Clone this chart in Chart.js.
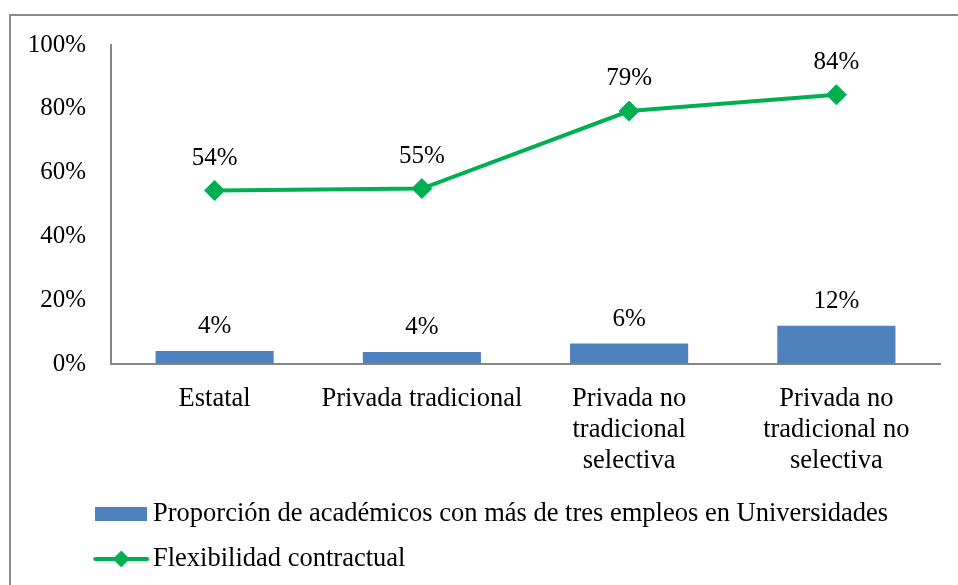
<!DOCTYPE html>
<html><head><meta charset="utf-8">
<script src="https://cdn.jsdelivr.net/npm/chart.js@4/dist/chart.umd.min.js"></script>
<style>
html,body{margin:0;padding:0;background:#fff;width:958px;height:585px;overflow:hidden;}
#frame{position:absolute;left:9px;top:14px;width:1000px;height:700px;border-left:2px solid #8a8a8a;border-top:2px solid #8a8a8a;}
canvas{position:absolute;left:0;top:0;}
</style></head><body>
<div id="frame"></div>
<canvas id="c" width="958" height="585"></canvas>
<script>
// ---- data ----
const categories = ['Estatal', 'Privada tradicional', ['Privada no', 'tradicional', 'selectiva'], ['Privada no', 'tradicional no', 'selectiva']];
const seriesNames = ['Proporción de académicos con más de tres empleos en Universidades', 'Flexibilidad contractual'];
const barValues = [4.1, 3.8, 6.4, 12.0];
const lineValues = [54.4, 55.0, 79.3, 84.4];
const yTickValues = [0, 20, 40, 60, 80, 100];

// ---- styles ----
const BAR = '#4F81BD';
const LINE = '#00B050';
const FONT = 'Liberation Serif';

function barSwatch() {
  const c = document.createElement('canvas'); c.width = 52; c.height = 14;
  const g = c.getContext('2d'); g.fillStyle = BAR; g.fillRect(0, 0, 52, 14); return c;
}
function lineSwatch() {
  const c = document.createElement('canvas'); c.width = 58; c.height = 20;
  const g = c.getContext('2d');
  g.strokeStyle = LINE; g.lineWidth = 4; g.lineCap = 'round';
  g.beginPath(); g.moveTo(3, 10); g.lineTo(55, 10); g.stroke();
  g.fillStyle = LINE; g.beginPath();
  g.moveTo(29, 1.5); g.lineTo(37.5, 10); g.lineTo(29, 18.5); g.lineTo(20.5, 10); g.closePath(); g.fill();
  return c;
}
const swatches = [barSwatch(), lineSwatch()];

const valueLabels = {
  id: 'valueLabels',
  afterLayout(chart) {
    // legend rows start at the same left edge as in the reference
    if (chart.legend) chart.legend.left = 84.25;
  },
  afterDatasetsDraw(chart) {
    const ctx = chart.ctx;
    ctx.save();
    ctx.font = '25px "' + FONT + '"';
    ctx.fillStyle = '#000';
    ctx.textAlign = 'center';
    ctx.textBaseline = 'middle';
    chart.data.datasets.forEach((ds, di) => {
      const meta = chart.getDatasetMeta(di);
      const off = ds.type === 'line' ? 32.5 : 24.5;
      meta.data.forEach((el, i) => {
        ctx.fillText(Math.round(ds.data[i]) + '%', el.x, el.y - off);
      });
    });
    ctx.restore();
  }
};

new Chart(document.getElementById('c'), {
  type: 'bar',
  data: {
    labels: categories,
    datasets: [
      { type: 'bar', label: seriesNames[0], data: barValues, backgroundColor: BAR,
        barPercentage: 0.57, categoryPercentage: 1.0, order: 2 },
      { type: 'line', label: seriesNames[1], data: lineValues, borderColor: LINE, backgroundColor: LINE,
        borderWidth: 4, tension: 0, fill: false, pointStyle: 'rectRot', pointRadius: 10,
        pointBorderWidth: 1, pointBackgroundColor: LINE, pointBorderColor: LINE, order: 1 }
    ]
  },
  options: {
    responsive: false,
    animation: false,
    devicePixelRatio: 1,
    layout: { padding: { left: 28, right: 18, top: 45, bottom: 2.75 } },
    plugins: {
      tooltip: { enabled: false },
      legend: {
        position: 'bottom',
        align: 'start',
        onClick: null,
        labels: {
          usePointStyle: true,
          pointStyleWidth: 37,
          padding: 18.5,
          color: '#000',
          font: { family: FONT, size: 26.5 },
          generateLabels: (chart) => chart.data.datasets.map((ds, i) => ({
            text: ds.label, pointStyle: swatches[i], fillStyle: i ? LINE : BAR,
            strokeStyle: i ? LINE : BAR, lineWidth: 0, hidden: false, datasetIndex: i
          }))
        }
      }
    },
    scales: {
      x: {
        offset: true,
        grid: { display: true, drawOnChartArea: false, drawTicks: false },
        border: { display: true, color: '#868686', width: 2 },
        ticks: { color: '#000', padding: 20, maxRotation: 0, autoSkip: false,
                 font: { family: FONT, size: 26.5, lineHeight: 1.16 } },
        afterFit: (s) => { s.height = 118.25; }
      },
      y: {
        min: 0, max: 100,
        afterBuildTicks: (s) => { s.ticks = yTickValues.map(v => ({ value: v })); },
        grid: { display: true, drawOnChartArea: false, drawTicks: false },
        border: { display: true, color: '#868686', width: 2 },
        ticks: { color: '#000', padding: 25, callback: (v) => v + '%',
                 font: { family: FONT, size: 25 } },
        afterFit: (s) => { s.width = 83; }
      }
    }
  },
  plugins: [valueLabels]
});
</script>
</body></html>
